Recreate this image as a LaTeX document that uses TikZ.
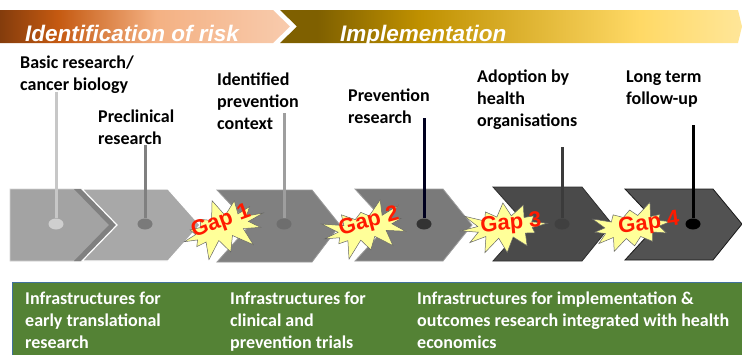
\documentclass[tikz,border=0pt]{standalone}
\usepackage{fontspec}
\setmainfont{Carlito}
\newfontfamily\arialfont{Liberation Sans}
\usetikzlibrary{shapes.geometric,shapes.symbols}

\definecolor{riskdark}{HTML}{843C0C}
\definecolor{riskmid}{HTML}{C55A11}
\definecolor{risklight}{HTML}{F4B183}
\definecolor{riskpale}{HTML}{F8CBAD}
\definecolor{impldark}{HTML}{7F6000}
\definecolor{implmid}{HTML}{BF9000}
\definecolor{impllight}{HTML}{FFD966}
\definecolor{implpale}{HTML}{FFE699}
\definecolor{infragreen}{HTML}{548235}
\definecolor{infrablue}{HTML}{41719C}
\definecolor{gapyellow}{HTML}{FFFF99}
\definecolor{gapred}{HTML}{FF1A00}

\pgfdeclarehorizontalshading{riskshade}{100bp}{color(0bp)=(riskdark); color(25bp)=(riskdark); color(35bp)=(riskmid); color(52bp)=(risklight); color(75bp)=(riskpale); color(100bp)=(riskpale)}
\pgfdeclarehorizontalshading{implshade}{100bp}{color(0bp)=(impldark); color(25bp)=(impldark); color(29bp)=(impldark); color(40bp)=(implmid); color(64bp)=(impllight); color(75bp)=(implpale); color(100bp)=(implpale)}

\begin{document}
\begin{tikzpicture}[x=1pt,y=-1pt,
    steplabel/.style={anchor=base west,align=left,inner sep=0pt,font=\bfseries\fontsize{18}{22}\selectfont},
    infratext/.style={steplabel,text=white},
    bandtext/.style={anchor=base west,inner sep=0pt,text=white,font=\arialfont\bfseries\itshape\fontsize{22.5}{26}\selectfont},
    chev/.style={line width=0.8pt,line join=miter},
    stem/.style={line width=3pt},
    dot/.style={ellipse,inner sep=0pt,minimum width=15pt,minimum height=11pt},
    gapstar/.style={starburst,starburst points=12,starburst point height=20pt,fill=gapyellow,draw=black!60,line width=0.5pt,inner sep=0pt,minimum width=96pt,minimum height=62pt},
    gaptext/.style={text=gapred,inner sep=0pt,font=\arialfont\bfseries\fontsize{22}{24}\selectfont}]
    \useasboundingbox (0,0) rectangle (742,354);

    % banner
    \shade[shading=riskshade] (0,10) -- (273,10) -- (290,26.5) -- (273,43) -- (0,43) -- cycle;
    \shade[shading=implshade] (280,10) -- (738,10) -- (742,26.5) -- (738,43) -- (280,43) -- (297,26.5) -- cycle;
    \node[bandtext] (risk) at (25,41) {Identification of risk};
    \node[bandtext] (impl) at (340,41) {Implementation};

    % chevrons
    \filldraw[chev,fill=black!36,draw=black!18] (10,189) -- (82,189) -- (117,225) -- (82,261) -- (10,261) -- cycle;
    \fill[black!50] (74,189) -- (82,189) -- (117,225) -- (82,261) -- (74,261) -- (109,225) -- cycle;
    \filldraw[chev,fill=black!34,draw=white,line width=1.2pt] (82,189) -- (168,189) -- (200,225) -- (168,261) -- (82,261) -- (117,225) -- cycle;
    \filldraw[chev,fill=black!50,draw=black!40] (217,190) -- (312,190) -- (340,225) -- (312,262) -- (217,262) -- (250,225) -- cycle;
    \filldraw[chev,fill=black!52,draw=black!38] (355,189) -- (443,189) -- (472,225) -- (443,261) -- (355,261) -- (388,225) -- cycle;
    \filldraw[chev,fill=black!71,draw=black!82] (493,187) -- (582,187) -- (612,224) -- (582,261) -- (493,261) -- (526,224) -- cycle;
    \filldraw[chev,fill=black!68,draw=black!90] (625,189) -- (713,189) -- (742,224) -- (713,260) -- (625,260) -- (658,224) -- cycle;

    % labels (anchored at the baseline of the last line)
    \node[steplabel] (basic) at (20,90) {Basic research/\\cancer biology};
    \node[steplabel] (precl) at (98,144) {Preclinical\\research};
    \node[steplabel] (ident) at (217,129) {Identified\\prevention\\context};
    \node[steplabel] (prevr) at (348,123) {Prevention\\research};
    \node[steplabel] (adopt) at (477,126) {Adoption by\\health\\organisations};
    \node[steplabel] (longt) at (626,104) {Long term\\follow-up};

    % stems and dots
    \coordinate (top1) at (56,92);
    \coordinate (top2) at (145,145);
    \coordinate (top3) at (284,113);
    \coordinate (top4) at (424,118);
    \coordinate (top5) at (562,147);
    \coordinate (top6) at (693,125);
    \node[dot,fill=black!19] (dot1) at (56,224) {};
    \node[dot,fill=black!52] (dot2) at (145,224) {};
    \node[dot,fill=black!57] (dot3) at (284,224) {};
    \node[dot,fill=black!80] (dot4) at (424,224) {};
    \node[dot,fill=black!75] (dot5) at (562,224) {};
    \node[dot,fill=black] (dot6) at (693,224) {};
    \draw[stem,black!22] (top1) -- (dot1);
    \draw[stem,black!50] (top2) -- (dot2);
    \draw[stem,black!38] (top3) -- (dot3);
    \draw[stem,black!88!blue] (top4) -- (dot4);
    \draw[stem,black!77] (top5) -- (dot5);
    \draw[stem,black] (top6) -- (dot6);

    % gaps
    \node[gapstar,rotate=20,random starburst=7] (gap1) at (222,228) {};
    \node[gaptext,rotate=20] (gap1txt) at (221,222) {Gap 1};
    \node[gapstar,rotate=15,random starburst=23] (gap2) at (365,228) {};
    \node[gaptext,rotate=15] (gap2txt) at (369,222) {Gap 2};
    \node[gapstar,rotate=5,random starburst=41] (gap3) at (505,227) {};
    \node[gaptext,rotate=5] (gap3txt) at (511,224) {Gap 3};
    \node[gapstar,rotate=8,random starburst=59] (gap4) at (632,227) {};
    \node[gaptext,rotate=8] (gap4txt) at (649,224) {Gap 4};

    % infrastructures
    \draw[fill=infragreen,draw=infrablue,line width=0.8pt] (12,282) rectangle (744,356);
    \node[infratext] (infra1) at (25,348) {Infrastructures for\\early translational\\research};
    \node[infratext] (infra2) at (230,348) {Infrastructures for\\clinical and\\prevention trials};
    \node[infratext] (infra3) at (417,348) {Infrastructures for implementation \&\\outcomes research integrated with health\\economics};
\end{tikzpicture}
\end{document}
